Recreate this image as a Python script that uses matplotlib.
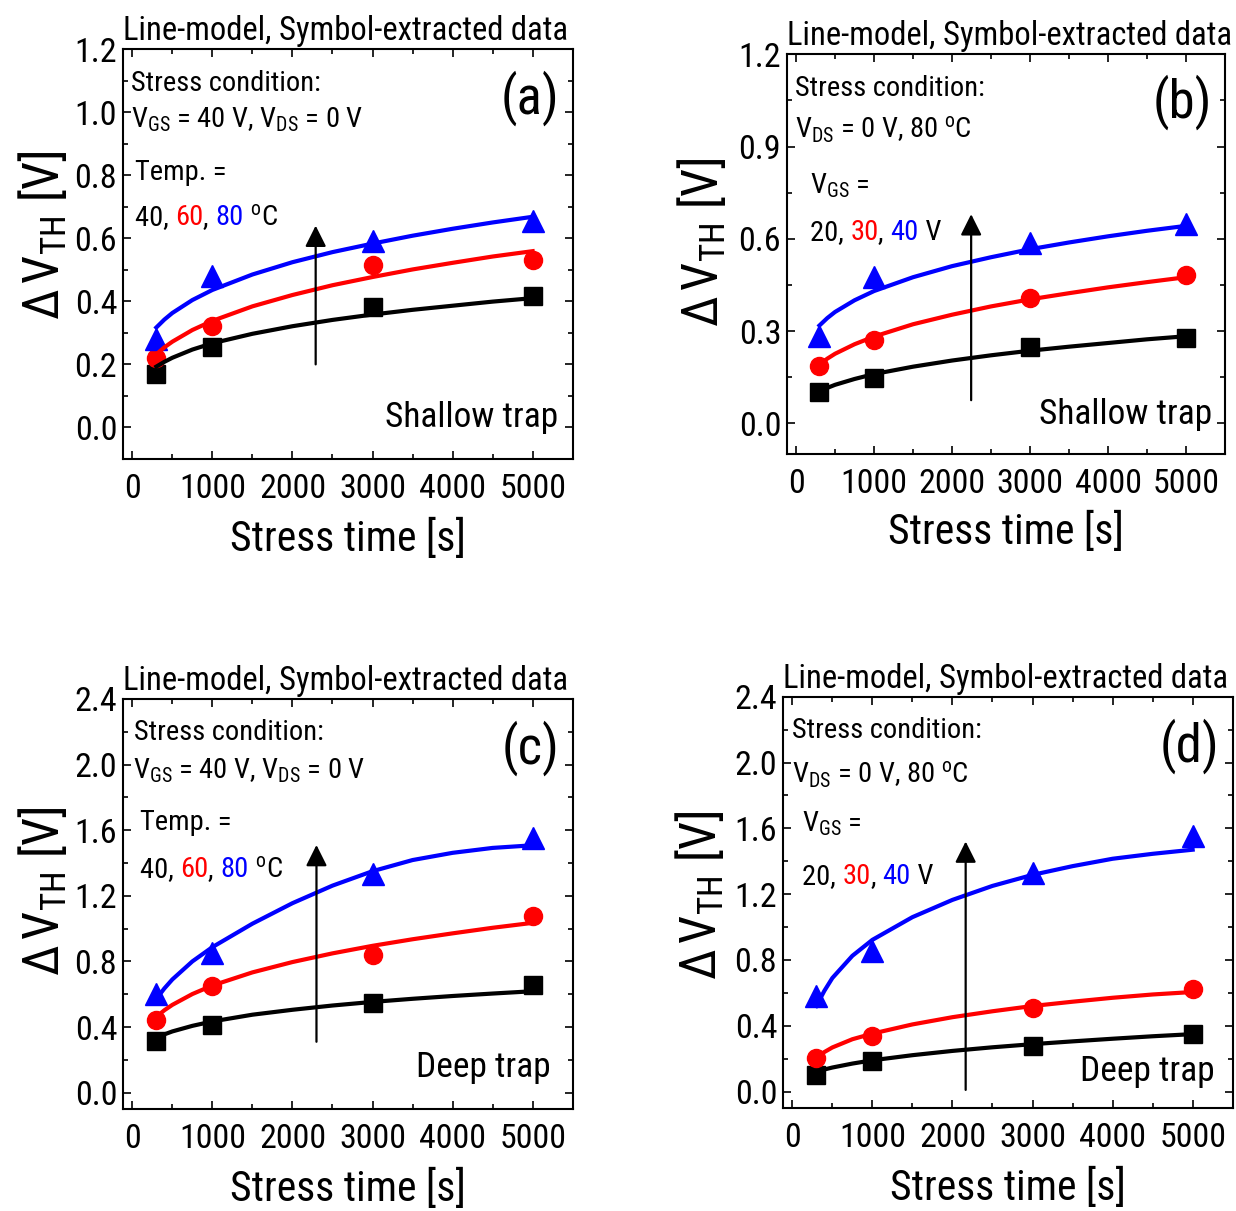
import matplotlib
matplotlib.use('Agg')
import matplotlib.pyplot as plt
from matplotlib.ticker import MultipleLocator, FormatStrFormatter

# fonts: narrow sans, falls back to DejaVu Sans
FONT = ['Liberation Sans Narrow', 'Roboto Condensed', 'Archivo Narrow', 'PT Sans Narrow', 'DejaVu Sans']
plt.rcParams['font.family'] = FONT
plt.rcParams['mathtext.fontset'] = 'custom'
plt.rcParams['mathtext.rm'] = 'Roboto Condensed'
plt.rcParams['mathtext.it'] = 'Roboto Condensed:italic'
plt.rcParams['mathtext.bf'] = 'Roboto Condensed:bold'

# stress times
t_meas = [300, 1000, 3000, 5000]
t_model = [300, 400, 500, 750, 1000, 1500, 2000, 2500, 3000, 3500, 4000, 4500, 5000]

# (a) shallow trap, temperature 40 / 60 / 80 C
a_meas_40 = [0.168, 0.256, 0.383, 0.418]
a_meas_60 = [0.220, 0.323, 0.516, 0.532]
a_meas_80 = [0.280, 0.480, 0.590, 0.655]
a_model_40 = [0.193, 0.208, 0.221, 0.247, 0.267, 0.297, 0.321, 0.341, 0.358, 0.373, 0.386, 0.399, 0.410]
a_model_60 = [0.232, 0.254, 0.272, 0.309, 0.338, 0.384, 0.420, 0.451, 0.477, 0.501, 0.522, 0.542, 0.559]
a_model_80 = [0.317, 0.342, 0.363, 0.404, 0.436, 0.485, 0.524, 0.556, 0.583, 0.608, 0.630, 0.650, 0.668]

# (b) shallow trap, VGS 20 / 30 / 40 V
b_meas_20 = [0.101, 0.148, 0.249, 0.278]
b_meas_30 = [0.185, 0.272, 0.409, 0.481]
b_meas_40 = [0.283, 0.475, 0.585, 0.649]
b_model_20 = [0.104, 0.115, 0.125, 0.144, 0.160, 0.184, 0.204, 0.221, 0.236, 0.249, 0.261, 0.273, 0.283]
b_model_30 = [0.191, 0.210, 0.226, 0.257, 0.282, 0.322, 0.353, 0.380, 0.403, 0.423, 0.442, 0.459, 0.475]
b_model_40 = [0.318, 0.342, 0.362, 0.400, 0.430, 0.475, 0.511, 0.540, 0.566, 0.588, 0.608, 0.626, 0.642]

# (c) deep trap, temperature 40 / 60 / 80 C
c_meas_40 = [0.316, 0.412, 0.549, 0.658]
c_meas_60 = [0.440, 0.647, 0.839, 1.078]
c_meas_80 = [0.603, 0.854, 1.333, 1.551]
c_model_40 = [0.333, 0.355, 0.373, 0.407, 0.434, 0.475, 0.505, 0.531, 0.553, 0.572, 0.589, 0.604, 0.618]
c_model_60 = [0.462, 0.502, 0.535, 0.601, 0.653, 0.733, 0.796, 0.849, 0.895, 0.935, 0.971, 1.005, 1.035]
c_model_80 = [0.571, 0.635, 0.690, 0.800, 0.887, 1.030, 1.155, 1.262, 1.350, 1.418, 1.462, 1.492, 1.508]

# (d) deep trap, VGS 20 / 30 / 40 V
d_meas_20 = [0.103, 0.183, 0.277, 0.349]
d_meas_30 = [0.205, 0.336, 0.510, 0.626]
d_meas_40 = [0.582, 0.855, 1.330, 1.553]
d_model_20 = [0.120, 0.134, 0.146, 0.170, 0.190, 0.221, 0.247, 0.269, 0.288, 0.305, 0.321, 0.336, 0.349]
d_model_30 = [0.205, 0.240, 0.268, 0.318, 0.352, 0.408, 0.452, 0.488, 0.520, 0.546, 0.570, 0.590, 0.605]
d_model_40 = [0.520, 0.612, 0.690, 0.825, 0.922, 1.060, 1.165, 1.250, 1.317, 1.370, 1.415, 1.445, 1.470]

colors = ['black', 'red', 'blue']
markers = ['s', 'o', '^']
msizes = [13, 13, 16]

W, H = 1236, 1211
fig = plt.figure(figsize=(W / 100, H / 100), dpi=100)


def box(l, t, r, b):
    return [l / W, 1 - b / H, (r - l) / W, (b - t) / H]


def colored(ax, x, y, parts, fs):
    txt = ax.text(x, y, parts[0][0], color=parts[0][1], fontsize=fs,
                  transform=ax.transAxes, va='center', ha='left')
    for s, c in parts[1:]:
        txt = ax.annotate(s, xy=(1, 0), xycoords=txt, color=c, fontsize=fs,
                          va='bottom', ha='left')


def panel(ax, meas, model, ylim, ymaj, arrow, label, trap, trap_xy, texts, ylab_pos):
    for m, mod, c, mk, ms in zip(meas, model, colors, markers, msizes):
        ax.plot(t_meas, m, linestyle='none', marker=mk, color=c, markersize=ms, zorder=3)
        ax.plot(t_model, mod, color=c, linewidth=3, zorder=4)
    ax.annotate('', xy=(arrow[0], arrow[2]), xytext=(arrow[0], arrow[1]),
                arrowprops=dict(arrowstyle='-|>', color='black', lw=1.6, mutation_scale=32,
                                shrinkA=0, shrinkB=0), zorder=5)
    ax.set_xlim(-120, 5500)
    ax.set_ylim(*ylim)
    ax.xaxis.set_major_locator(MultipleLocator(1000))
    ax.xaxis.set_minor_locator(MultipleLocator(500))
    ax.yaxis.set_major_locator(MultipleLocator(ymaj))
    ax.yaxis.set_minor_locator(MultipleLocator(ymaj / 2))
    ax.yaxis.set_major_formatter(FormatStrFormatter('%.1f'))
    ax.tick_params(which='both', direction='in', top=True, right=True, width=1.2, labelsize=24.5)
    ax.tick_params(which='major', length=6)
    ax.tick_params(which='minor', length=3.5)
    ax.tick_params(axis='x', pad=10)
    ax.tick_params(axis='y', pad=4)
    for sp in ax.spines.values():
        sp.set_linewidth(1.5)
    ax.set_xlabel('Stress time [s]', fontsize=30)
    ax.xaxis.set_label_coords(0.5, -0.145)
    ax.set_ylabel(r'$\Delta\,$V$_{\rm TH}$ [V]', fontsize=36)
    ax.yaxis.set_label_coords(*ylab_pos)
    ax.text(0.0, 1.005, 'Line-model, Symbol-extracted data', transform=ax.transAxes,
            fontsize=23.5, ha='left', va='bottom')
    ax.text(0.97, 0.88, label, transform=ax.transAxes, fontsize=38, ha='right', va='center')
    ax.text(trap_xy[0], trap_xy[1], trap, transform=ax.transAxes, fontsize=25.5,
            ha='right', va='center')
    for x, y, parts in texts:
        colored(ax, x, y, parts, 20.5)


deg = r'$^{\rm o}$C'

ax_a = fig.add_axes(box(122.7, 49, 572.7, 459))
panel(ax_a, [a_meas_40, a_meas_60, a_meas_80], [a_model_40, a_model_60, a_model_80],
      (-0.1, 1.2), 0.2, (2290, 0.2, 0.64), '(a)', 'Shallow trap', (0.967, 0.10),
      [(0.018, 0.915, [('Stress condition:', 'black')]),
       (0.018, 0.827, [(r'V$_{\rm GS}$ = 40 V, V$_{\rm DS}$ = 0 V', 'black')]),
       (0.027, 0.70, [('Temp. =', 'black')]),
       (0.027, 0.588, [('40, ', 'black'), ('60', 'red'), (', ', 'black'), ('80', 'blue'),
                       (' ' + deg, 'black')])],
      (-0.12, 0.546))

ax_b = fig.add_axes(box(786.7, 54.3, 1225, 454))
panel(ax_b, [b_meas_20, b_meas_30, b_meas_40], [b_model_20, b_model_30, b_model_40],
      (-0.1, 1.2), 0.3, (2245, 0.075, 0.68), '(b)', 'Shallow trap', (0.97, 0.10),
      [(0.019, 0.915, [('Stress condition:', 'black')]),
       (0.019, 0.81, [(r'V$_{\rm DS}$ = 0 V, 80 ' + deg, 'black')]),
       (0.053, 0.672, [(r'V$_{\rm GS}$ =', 'black')]),
       (0.053, 0.553, [('20, ', 'black'), ('30', 'red'), (', ', 'black'), ('40', 'blue'),
                       (' V', 'black')])],
      (-0.133, 0.53))

ax_c = fig.add_axes(box(122.7, 699, 572.7, 1109))
panel(ax_c, [c_meas_40, c_meas_60, c_meas_80], [c_model_40, c_model_60, c_model_80],
      (-0.1, 2.4), 0.4, (2300, 0.31, 1.51), '(c)', 'Deep trap', (0.952, 0.10),
      [(0.025, 0.918, [('Stress condition:', 'black')]),
       (0.023, 0.824, [(r'V$_{\rm GS}$ = 40 V, V$_{\rm DS}$ = 0 V', 'black')]),
       (0.038, 0.70, [('Temp. =', 'black')]),
       (0.038, 0.583, [('40, ', 'black'), ('60', 'red'), (', ', 'black'), ('80', 'blue'),
                       (' ' + deg, 'black')])],
      (-0.12, 0.53))

ax_d = fig.add_axes(box(782.7, 696.7, 1232.7, 1108))
panel(ax_d, [d_meas_20, d_meas_30, d_meas_40], [d_model_20, d_model_30, d_model_40],
      (-0.1, 2.4), 0.4, (2165, 0.01, 1.52), '(d)', 'Deep trap', (0.96, 0.088),
      [(0.02, 0.918, [('Stress condition:', 'black')]),
       (0.02, 0.81, [(r'V$_{\rm DS}$ = 0 V, 80 ' + deg, 'black')]),
       (0.043, 0.69, [(r'V$_{\rm GS}$ =', 'black')]),
       (0.043, 0.563, [('20, ', 'black'), ('30', 'red'), (', ', 'black'), ('40', 'blue'),
                       (' V', 'black')])],
      (-0.127, 0.518))

fig.savefig('out.png', dpi=100)
